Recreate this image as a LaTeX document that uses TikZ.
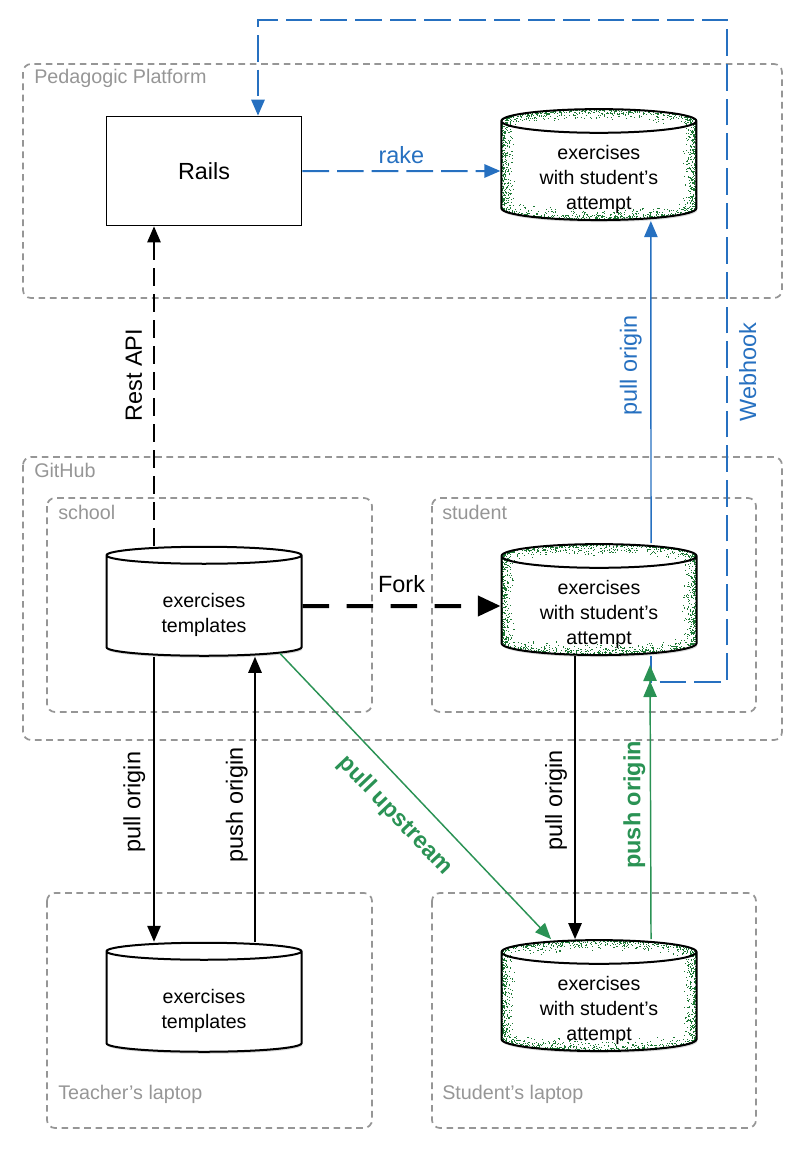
\documentclass[tikz,border=0pt]{standalone}
\usepackage{fontspec}
\setmainfont{Liberation Sans}
\usetikzlibrary{arrows.meta, positioning, calc, shapes.geometric, shadows}
\definecolor{hookblue}{RGB}{38,112,192}
\definecolor{gitgreen}{RGB}{42,146,84}
\definecolor{boxgray}{RGB}{150,150,150}
\definecolor{speckgreen}{RGB}{28,120,52}

% green grain along the rim of a repository cylinder
\newcommand\speckles{%
  \foreach \k in {1,...,380}{%
    \pgfmathsetmacro\ux{10*rnd*rnd}\pgfmathsetmacro\uy{81.75*rnd}%
    \fill[speckgreen] ([shift={(\ux pt,\uy pt)}]path picture bounding box.south west) rectangle ++(0.8pt,0.8pt);
    \pgfmathsetmacro\ux{10*rnd*rnd+0.8}\pgfmathsetmacro\uy{81.75*rnd}%
    \fill[speckgreen] ([shift={(-\ux pt,\uy pt)}]path picture bounding box.south east) rectangle ++(0.8pt,0.8pt);
  }%
  \foreach \k in {1,...,450}{%
    \pgfmathsetmacro\ux{146.25*rnd}%
    \pgfmathsetmacro\uy{7.5*(1-sqrt(max(0,1-((\ux-73.1)/73.1)^2)))+9*rnd*rnd}%
    \fill[speckgreen] ([shift={(\ux pt,\uy pt)}]path picture bounding box.south west) rectangle ++(0.8pt,0.8pt);
    \pgfmathsetmacro\ux{146.25*rnd}%
    \pgfmathsetmacro\uy{7.5*(1-sqrt(max(0,1-((\ux-73.1)/73.1)^2)))+9*rnd*rnd+0.8}%
    \fill[speckgreen] ([shift={(\ux pt,-\uy pt)}]path picture bounding box.north west) rectangle ++(0.8pt,0.8pt);
  }%
}
% text of a cylinder, set a little below its centre
\newcommand\dbtext[1]{\raisebox{-6.5pt}[\height][\depth]{\begin{tabular}{@{}c@{}}#1\end{tabular}}}

\begin{document}
\begin{tikzpicture}[x=0.75pt, y=-0.75pt,
    group/.style={draw=boxgray, line width=1.3pt, dash pattern=on 5pt off 3.5pt, rounded corners=6pt},
    grouplbl/.style={anchor=west, text=boxgray, inner sep=0pt, font=\fontsize{14.8}{17}\selectfont},
    plainbox/.style={rectangle, draw, line width=1.3pt, minimum width=146.25pt, minimum height=81.75pt,
                     font=\fontsize{17.5}{20}\selectfont},
    db/.style={cylinder, shape border rotate=90, aspect=.2, draw, line width=1.5pt, fill=white,
               minimum width=146.25pt, minimum height=81.75pt, inner sep=0pt,
               font=\fontsize{14.7}{18.6}\selectfont,
               drop shadow={shadow xshift=0.6pt, shadow yshift=-1.5pt, opacity=.3}},
    dbspeck/.style={db, path picture={\speckles}},
    edgelbl/.style={font=\fontsize{17.6}{20}\selectfont},
    uplbl/.style={edgelbl, rotate=90, anchor=south},
    arr/.style={-{Triangle[length=12pt,width=10pt]}, line width=1.3pt},
    apiarr/.style={arr, dash pattern=on 13.5pt off 6pt},
    forkarr/.style={-{Triangle[length=17pt,width=15pt]}, line width=3pt, dash pattern=on 20pt off 13pt},
    bluearr/.style={arr, hookblue, line width=1.1pt},
    hookarr/.style={bluearr, line width=1.5pt, dash pattern=on 20pt off 6pt},
    greenarr/.style={arr, gitgreen, line width=1.1pt},
  ]
  \pgfmathsetseed{17}
  \useasboundingbox (0,0) rectangle (804,1150);

  % group frames
  \draw[group] (23,64) rectangle (782,298);
  \node[grouplbl] (lblpp) at (34,78) {Pedagogic Platform};
  \draw[group] (23,457) rectangle (782,740);
  \node[grouplbl] (lblgh) at (34,470) {GitHub};
  \draw[group] (47,498) rectangle (372,712);
  \node[grouplbl] (lblschool) at (58,512) {school};
  \draw[group] (432,498) rectangle (756,712);
  \node[grouplbl] (lblstudent) at (442,512) {student};
  \draw[group] (47,893) rectangle (372,1128);
  \node[grouplbl] (lblteacherlap) at (58,1094) {Teacher’s laptop};
  \draw[group] (432,893) rectangle (756,1128);
  \node[grouplbl] (lblstudentlap) at (442,1094) {Student’s laptop};

  % repositories
  \node[plainbox] (rails) at (204,171) {Rails};
  \node[dbspeck, right=148.5pt of rails] (attemptpp) {\dbtext{exercises\\with student’s\\attempt}};
  \node[db] (tplschool) at (204,606) {\dbtext{exercises\\templates}};
  \node[dbspeck, right=148.5pt of tplschool] (attemptgh) {\dbtext{exercises\\with student’s\\attempt}};
  \node[db] (tplteacher) at (204,1002) {\dbtext{exercises\\templates}};
  \node[dbspeck, right=148.5pt of tplteacher] (attemptlap) {\dbtext{exercises\\with student’s\\attempt}};

  \coordinate (hookc) at (727,682);
  \coordinate (hooktop) at (727,20);
  \coordinate (pushend) at (650,665);

  % connectors
  \draw[hookarr] (rails) -- node[edgelbl, above=1pt, text=hookblue] (lblrake) {rake} (attemptpp);
  \draw[apiarr] ([xshift=-37.5pt]tplschool.north) -- node[pos=.534, xshift=-5pt, uplbl] (lblrest) {Rest API} ([xshift=-37.5pt]rails.south);
  \draw[bluearr] ([xshift=39pt]attemptgh.north) -- node[pos=.552, xshift=-3pt, uplbl, text=hookblue] (lblpullpp) {pull origin} ([xshift=39pt]attemptpp.south);
  \draw[hookarr] ([xshift=39pt]attemptgh.south) |- (hookc) -- node[pos=.468, xshift=5pt, uplbl, anchor=north, text=hookblue] (lblhook) {Webhook} (hooktop) -| ([xshift=40.5pt]rails.north);
  \draw[forkarr] (tplschool) -- node[edgelbl, above=5pt] (lblfork) {Fork} (attemptgh);
  \draw[arr] ([xshift=-37.5pt]tplschool.south) -- node[pos=.51, xshift=-2.5pt, uplbl] (lblpullt) {pull origin} ([xshift=-37.5pt]tplteacher.north);
  \draw[arr] ([xshift=38.25pt]tplteacher.north) -- node[pos=.48, xshift=-1.5pt, uplbl] (lblpusht) {push origin} ([xshift=38.25pt]tplschool.south);
  \draw[greenarr] ([xshift=57pt, yshift=2.5pt]tplschool.south) -- node[edgelbl, sloped, below=9pt, text=gitgreen, font=\fontsize{17.6}{20}\selectfont\bfseries] (lblupstream) {pull upstream} ([xshift=-36pt]attemptlap.north);
  \draw[arr] ([xshift=-18pt]attemptgh.south) -- node[pos=.51, xshift=-2pt, uplbl] (lblpulls) {pull origin} ([xshift=-18pt]attemptlap.north);
  \draw[greenarr, -{Triangle[length=12pt,width=10pt] Triangle[length=12pt,width=10pt]}] ([xshift=39pt]attemptlap.north) -- node[pos=.49, uplbl, text=gitgreen, font=\fontsize{17.6}{20}\selectfont\bfseries] (lblpushs) {push origin} (pushend);
\end{tikzpicture}
\end{document}
